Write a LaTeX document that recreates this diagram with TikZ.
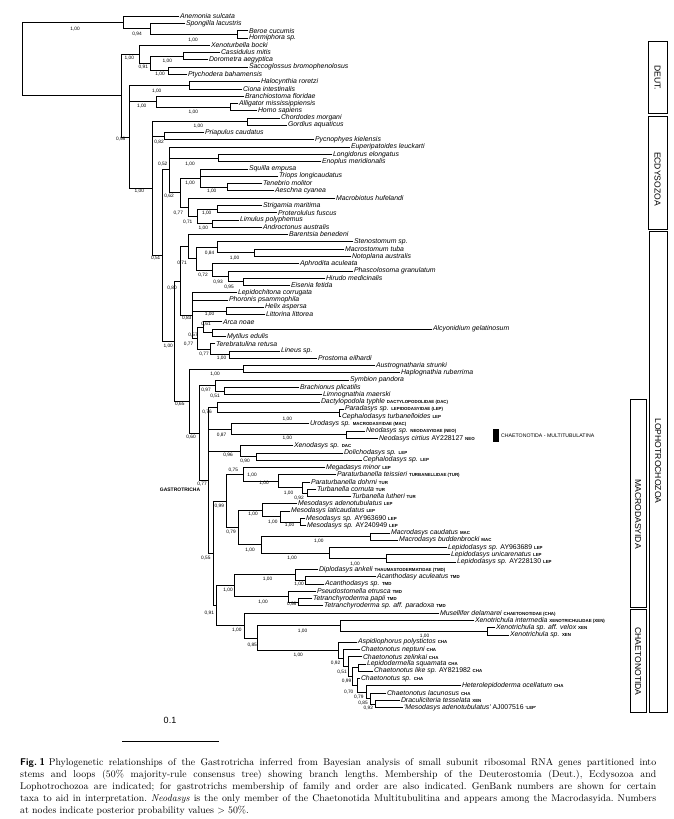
\documentclass[tikz,border=0pt]{standalone}
\usepackage{fontspec}
\newfontfamily\treefont{Liberation Sans}
\usetikzlibrary{calc}

\newcommand\famlab[1]{{\upshape\bfseries\fontsize{4.4}{5}\selectfont #1}}
\newcommand\acc[1]{{\upshape #1}}
% internal node: name, x, children from top to bottom
\newcommand\clade[3]{%
  \foreach \c [count=\k] in {#3}{\ifnum\k=1 \xdef\cfirst{\c}\fi\xdef\clast{\c}}
  \path let \p1=(\cfirst), \p2=(\clast) in coordinate (#1) at ({#2pt},{(\y1+\y2)/2});
  \foreach \c in {#3}{\draw[br] (#1) -- (#1 |- \c) -- (\c);}
}

\tikzset{
  leaf/.style={anchor=west, inner sep=0.8pt, font=\treefont\itshape\fontsize{6.9}{7}\selectfont},
  pp/.style={inner sep=0pt, font=\treefont\fontsize{4.8}{5}\selectfont},
  br/.style={line width=0.6pt, line cap=rect},
  grp/.style={draw, line width=0.6pt},
  grplab/.style={rotate=-90, font=\treefont\fontsize{8.6}{9}\selectfont},
}

\begin{document}
\begin{tikzpicture}[x=1pt, y=-1pt]
\useasboundingbox (0,0) rectangle (674,819);

% taxa
\foreach \i/\x/\t in {
 0/179/{Anemonia sulcata}, 1/185/{Spongilla lacustris}, 2/248/{Beroe cucumis},
 3/248/{Hormiphora sp.}, 4/210/{Xenoturbella bocki}, 5/220/{Cassidulus mitis},
 6/208/{Dorometra aegyptica}, 7/248/{Saccoglossus bromophenolosus},
 8/187/{Ptychodera bahamensis}, 9/260/{Halocynthia roretzi},
 10/242/{Ciona intestinalis}, 11/244/{Branchiostoma floridae},
 12/238/{Alligator mississippiensis}, 13/257/{Homo sapiens},
 14/280/{Chordodes morgani}, 15/287/{Gordius aquaticus},
 16/204/{Priapulus caudatus}, 17/314/{Pycnophyes kielensis},
 18/350/{Euperipatoides leuckarti}, 19/332/{Longidorus elongatus},
 20/321/{Enoplus meridionalis}, 21/248/{Squilla empusa},
 22/278/{Triops longicaudatus}, 23/262/{Tenebrio molitor},
 24/274/{Aeschna cyanea}, 25/335/{Macrobiotus hufelandi},
 26/262/{Strigamia maritima}, 27/277/{Proterolulus fuscus},
 28/239/{Limulus polyphemus}, 29/262/{Androctonus australis},
 30/288/{Barentsia benedeni}, 31/353/{Stenostomum sp.},
 32/344/{Macrostomum tuba}, 33/351/{Notoplana australis},
 34/299/{Aphrodita aculeata}, 35/353/{Phascolosoma granulatum},
 36/325/{Hirudo medicinalis}, 37/290/{Eisenia fetida},
 38/237/{Lepidochitona corrugata}, 39/228/{Phoronis psammophila},
 40/264/{Helix aspersa}, 41/265/{Littorina littorea},
 42/222/{Arca noae}, 43/432/{Alcyonidium gelatinosum},
 44/226/{Mytilus edulis}, 45/215/{Terebratulina retusa},
 46/280/{Lineus sp.}, 47/317/{Prostoma eilhardi},
 48/375/{Austrognatharia strunki}, 49/400/{Haplognathia ruberrima},
 50/349/{Symbion pandora}, 51/299/{Brachionus plicatilis},
 52/322/{Limnognathia maerski},
 53/320/{Dactylopodola typhle \famlab{DACTYLOPODOLIDAE (DAC)}},
 54/344/{Paradasys sp. \famlab{LEPIDODASYIDAE (LEP)}},
 55/341/{Cephalodasys turbanelloides \famlab{LEP}},
 56/309/{Urodasys sp. \famlab{MACRODASYIDAE (MAC)}},
 57/365/{Neodasys sp. \famlab{NEODASYIDAE (NEO)}},
 58/378/{Neodasys cirtius \acc{AY228127} \famlab{NEO}},
 59/293/{Xenodasys sp. \famlab{DAC}}, 60/343/{Dolichodasys sp. \famlab{LEP}},
 61/362/{Cephalodasys sp. \famlab{LEP}}, 62/325/{Megadasys minor \famlab{LEP}},
 63/336/{Paraturbanella teissieri \famlab{TURBANELLIDAE (TUR)}},
 64/310/{Paraturbanella dohrni \famlab{TUR}},
 65/316/{Turbanella cornuta \famlab{TUR}},
 66/351/{Turbanella lutheri \famlab{TUR}},
 67/297/{Mesodasys adenotubulatus \famlab{LEP}},
 68/290/{Mesodasys laticaudatus \famlab{LEP}},
 69/305/{Mesodasys sp. \acc{AY963690} \famlab{LEP}},
 70/306/{Mesodasys sp. \acc{AY240949} \famlab{LEP}},
 71/390/{Macrodasys caudatus \famlab{MAC}},
 72/398/{Macrodasys buddenbrocki \famlab{MAC}},
 73/447/{Lepidodasys sp. \acc{AY963689} \famlab{LEP}},
 74/450/{Lepidodasys unicarenatus \famlab{LEP}},
 75/456/{Lepidodasys sp. \acc{AY228130} \famlab{LEP}},
 76/318/{Diplodasys ankeli \famlab{THAUMASTODERMATIDAE (TMD)}},
 77/376/{Acanthodasy aculeatus \famlab{TMD}},
 78/324/{Acanthodasys sp. \famlab{TMD}},
 79/316/{Pseudostomella etrusca \famlab{TMD}},
 80/312/{Tetranchyroderma papii \famlab{TMD}},
 81/323/{Tetranchyroderma sp. aff. paradoxa \famlab{TMD}},
 82/439/{Musellifer delamarei \famlab{CHAETONOTIDAE (CHA)}},
 83/474/{Xenotrichula intermedia \famlab{XENOTRICHULIDAE (XEN)}},
 84/495/{Xenotrichula sp. aff. velox \famlab{XEN}},
 85/509/{Xenotrichula sp. \famlab{XEN}},
 86/357/{Aspidiophorus polystictos \famlab{CHA}},
 87/360/{Chaetonotus neptuni \famlab{CHA}},
 88/362/{Chaetonotus zelinkai \famlab{CHA}},
 89/366/{Lepidodermella squamata \famlab{CHA}},
 90/373/{Chaetonotus like sp. \acc{AY821982} \famlab{CHA}},
 91/360/{Chaetonotus sp. \famlab{CHA}},
 92/461/{Heterolepidoderma ocellatum \famlab{CHA}},
 93/386/{Chaetonotus lacunosus \famlab{CHA}},
 94/400/{Draculiciteria tesselata \famlab{XEN}},
 95/403/{'Mesodasys adenotubulatus' \acc{AJ007516} \famlab{'LEP'}}}
 {\node[leaf] (l\i) at (\x,{16+7.28*\i}) {\t};}

% outgroup and deuterostomes
\clade{ct}{237}{l2,l3}
\clade{sp}{150}{l1,ct}
\clade{cn}{123}{l0,sp}
\clade{ec}{183}{l5,l6}
\clade{hc}{168}{l7,l8}
\clade{am}{150}{ec,hc}
\clade{xa}{139}{l4,am}
\clade{tu}{189}{l9,l10}
\clade{ve}{230}{l12,l13}
\clade{bv}{156}{l11,ve}
% ecdysozoa
\clade{nm}{247}{l14,l15}
\clade{sc}{164}{l16,l17}
\clade{nt}{218}{l19,l20}
\clade{in}{227}{l23,l24}
\clade{pc}{200}{l21,l22,in}
\clade{my}{217}{l26,l27}
\clade{ch}{212}{l28,l29}
\clade{mc}{197}{my,ch}
\clade{tm}{188}{l25,mc}
\clade{ar}{180}{pc,tm}
\clade{rr}{169}{l18,nt,ar}
% lophotrochozoa
\clade{mn}{254}{l32,l33}
\clade{pl}{217}{l31,mn}
\clade{cl}{243}{l36,l37}
\clade{ph}{228}{l35,cl}
\clade{an}{212}{l34,ph}
\clade{pa}{196}{pl,an}
\clade{al}{188}{l30,pa}
\clade{hl}{226}{l40,l41}
\clade{bz}{212}{l43,l44}
\clade{aq}{203}{l42,bz}
\clade{ln}{229}{l46,l47}
\clade{tn}{210}{l45,ln}
\clade{de}{197}{aq,tn}
\clade{mo}{192}{l38,l39,hl,de}
\clade{lc}{180}{al,mo}
% gnathifera and gastrotricha
\clade{gn}{243}{l48,l49}
\clade{ro}{224}{l51,l52}
\clade{sy}{215}{l50,ro}
\clade{pd}{339}{l54,l55}
\clade{dp}{217}{l53,pd}
\clade{ne}{346}{l57,l58}
\clade{ur}{231}{l56,ne}
\clade{dc}{256}{l60,l61}
\clade{xd}{240}{l59,dc}
\clade{tba}{307}{l65,l66}
\clade{tbb}{302}{l64,tba}
\clade{tbc}{278}{l63,tbb}
\clade{mt}{243}{l62,tbc}
\clade{msa}{300}{l69,l70}
\clade{msb}{280}{l68,msa}
\clade{msc}{262}{l67,msb}
\clade{md}{370}{l71,l72}
\clade{lpa}{386}{l74,l75}
\clade{lpb}{329}{l73,lpa}
\clade{ml}{261}{md,lpb}
\clade{mx}{238}{msc,ml}
\clade{hh}{226}{mt,mx}
\clade{aca}{305}{l77,l78}
\clade{dip}{295}{l76,aca}
\clade{tet}{298}{l80,l81}
\clade{pse}{288}{l79,tet}
\clade{tmd}{234}{dip,pse}
\clade{xea}{487}{l84,l85}
\clade{xeb}{340}{l83,xea}
\clade{cha}{375}{l94,l95}
\clade{chb}{370}{l93,cha}
\clade{chc}{366}{l92,chb}
\clade{chd}{357}{l91,chc}
\clade{che}{358}{l89,l90}
\clade{chf}{352}{che,chd}
\clade{chg}{348}{l88,chf}
\clade{chh}{343}{l87,chg}
\clade{chi}{338}{l86,chh}
\clade{xc}{257}{xeb,chi}
\clade{cto}{244}{l82,xc}
\clade{vv}{216}{tmd,cto}
\clade{nn}{213}{hh,vv}
\clade{ga}{208}{dp,ur,xd,nn}
\clade{sg}{199}{sy,ga}
\clade{ta}{189}{gn,sg}
\clade{lo}{174}{lc,ta}
% backbone
\clade{qq}{162}{rr,lo}
\clade{pr}{152}{nm,sc,qq}
\clade{nb}{129}{tu,bv,pr}
\clade{bi}{121}{xa,nb}
\clade{root}{22}{cn,bi}

% posterior probabilities
\foreach \x/\y/\v [count=\k] in {
 75/29/{1,00}, 137/34/{0,94}, 193/40/{1,00}, 129.3/58.3/{1,00}, 143.3/66.7/{0,91},
 167.3/61/{1,00}, 160/74.3/{1,00}, 156.7/90.7/{1,00}, 141.7/106/{1,00},
 193.3/111.7/{1,00}, 198.3/126/{1,00}, 120.7/139.3/{0,98}, 159/141.7/{0,82},
 162.7/164/{0,52}, 190/164/{1,00}, 190/182.7/{1,00}, 211.7/190.7/{1,00},
 139.3/190.7/{1,00}, 169/195.7/{0,62}, 178.3/212.7/{0,77}, 206.7/213.3/{1,00},
 187.7/221.7/{0,71}, 203.3/228.3/{1,00},
 155.7/258.5/{0,51}, 182/263.6/{0,71}, 172/288.6/{0,80}, 209.6/253.4/{0,84},
 203/275.4/{0,72}, 234.6/258.1/{1,00}, 218/281.7/{0,93}, 229/286.8/{0,95},
 186.7/318.6/{0,83}, 209.6/313.9/{1,00}, 206/324/{0,61}, 193/335.3/{0,57},
 168.2/346/{1,00}, 188.6/344.4/{0,77}, 204/354/{0,77}, 221.5/358.5/{1,00},
 215/374.4/{1,00}, 206/390/{0,97}, 215/395.8/{0,51}, 179.8/404.2/{0,65},
 207/411.7/{0,76}, 287.3/418.8/{1,00}, 191/437.3/{0,60}, 221.5/435.3/{0,87},
 287.3/438.6/{1,00}, 228/455.6/{0,96}, 245/461.4/{0,90}, 233.3/470.2/{0,75},
 252/475/{1,00}, 264/482.7/{1,00}, 202/483.7/{0,77}, 288.5/492.7/{1,00},
 299/498.1/{0,92}, 219.4/506.3/{0,99}, 253/514.4/{1,00}, 272.8/522.2/{1,00},
 289.5/525.6/{1,00}, 231/531.7/{0,79}, 318.9/540.8/{1,00}, 205.8/558.1/{0,55},
 250/550/{1,00}, 292/558.5/{1,00}, 355/564/{1,00}, 267.5/579.3/{1,00}, 299/584/{1,00},
 228/590.5/{1,00}, 263/602.4/{1,00}, 291.7/604/{0,98}, 209.4/613.6/{0,91},
 236.8/630.5/{1,00}, 302.6/631.5/{1,00}, 424.6/636.1/{1,00}, 252.2/645.3/{0,85},
 298.2/654.7/{1,00}, 335.5/663.2/{0,92}, 342/672.4/{0,51}, 346.5/680.8/{0,99},
 348.7/692/{0,70}, 358.8/697.1/{0,79}, 363/703.5/{0,85}, 368.4/708/{0,92}}
 {\node[pp] (pp\k) at (\x,\y) {\v};}

\node[font=\treefont\bfseries\fontsize{5}{5}\selectfont, inner sep=0pt] (gast) at (180,490) {GASTROTRICHA};
\fill (493,428.5) rectangle (499,442);
\node[anchor=west, inner sep=0pt, font=\treefont\fontsize{5.2}{6}\selectfont] (multi) at (501,435.3) {CHAETONOTIDA - MULTITUBULATINA};

% groups
\draw[grp] (648,41.5) rectangle (667,113.5);
\node[grplab] (deut) at (657.5,77.5) {DEUT.};
\draw[grp] (648,116) rectangle (667,229);
\node[grplab] (ecd) at (657.5,179) {ECDYSOZOA};
\draw[grp] (649,231) rectangle (667,712);
\node[grplab] (lopho) at (658,461) {LOPHOTROCHOZOA};
\draw[grp] (630,399) rectangle (646,607);
\node[grplab] (macro) at (638,514) {MACRODASYIDA};
\draw[grp] (630,609.5) rectangle (646,712);
\node[grplab] (chaeto) at (638,661.5) {CHAETONOTIDA};

% scale bar
\node[font=\treefont\fontsize{9}{9}\selectfont] (sbl) at (170,720) {0.1};
\draw[line width=0.7pt] (122,741) -- (219,741);

% caption
\node[anchor=north west, inner sep=0pt, text width=636pt, align=justify,
      font=\fontsize{9.8}{12}\selectfont] (cap) at (20,758) {\frenchspacing
{\sffamily\bfseries Fig.\hspace{0.25em}1}\hspace{0.4em}Phylogenetic relationships of the Gastrotricha inferred from Bayesian analysis of small subunit ribosomal RNA genes partitioned into\linebreak
stems and loops (50\% majority-rule consensus tree) showing branch lengths. Membership of the Deuterostomia (Deut.), Ecdysozoa and\linebreak
Lophotrochozoa are indicated; for gastrotrichs membership of family and order are also indicated. GenBank numbers are shown for certain\linebreak
taxa to aid in interpretation. \emph{Neodasys} is the only member of the Chaetonotida Multitubulitina and appears among the Macrodasyida. Numbers\linebreak
at nodes indicate posterior probability values > 50\%.};
\end{tikzpicture}
\end{document}
